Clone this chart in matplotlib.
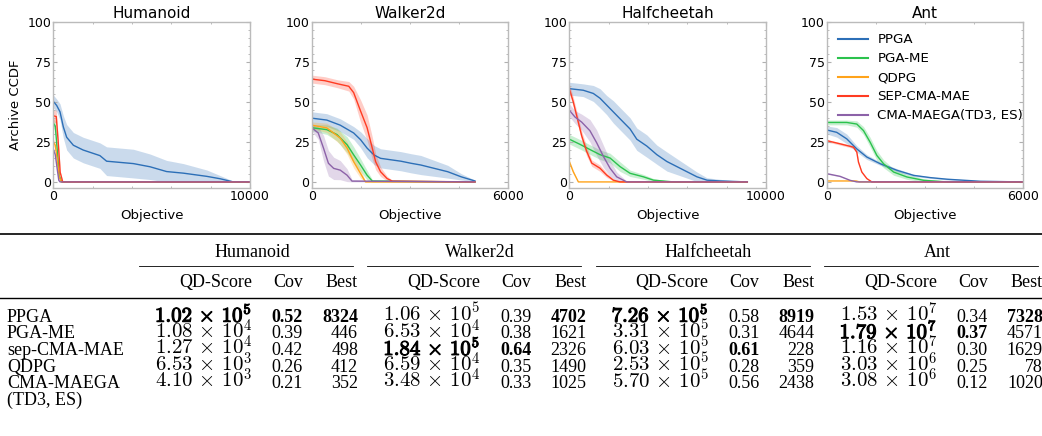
import numpy as np
import matplotlib as mpl
mpl.use('Agg')
import matplotlib.pyplot as plt
import matplotlib.patheffects as pe
from matplotlib.ticker import AutoMinorLocator

mpl.rcParams['mathtext.fontset'] = 'cm'
mpl.rcParams['font.family'] = 'DejaVu Sans'

envs = ['Humanoid', 'Walker2d', 'Halfcheetah', 'Ant']
env_xmax = [10000, 6000, 10000, 6000]
methods = ['PPGA', 'PGA-ME', 'QDPG', 'SEP-CMA-MAE', 'CMA-MAEGA(TD3, ES)']
colors = ['#2c6fb7', '#2bc24d', '#ffa31a', '#ff3b22', '#8c62a8']

# archive ccdf curves: method -> (objective, percent of cells, band half width)
humanoid = {
    'PPGA': ([0, 170, 340, 510, 680, 1020, 1520, 2370, 2710, 4070, 4920, 5760, 6610, 7800, 8480, 9150, 10000],
             [50.5, 48, 44, 34.5, 28, 23, 20, 16.5, 13, 11.5, 9.5, 6.5, 5.5, 3.5, 2, 0, 0],
             [4, 4, 5, 7, 8, 8, 8, 8, 9, 9, 8, 7, 6, 4, 2, 0.5, 0]),
    'PGA-ME': ([0, 100, 200, 300, 420, 10000], [37, 35, 20, 4, 0, 0], [3, 3, 3, 2, 0, 0]),
    'QDPG': ([0, 100, 200, 300, 420, 10000], [25, 23, 14, 3, 0, 0], [2, 2, 2, 1, 0, 0]),
    'SEP-CMA-MAE': ([0, 150, 250, 350, 480, 10000], [41.5, 41, 25, 6, 0, 0], [4, 4, 3, 1, 0, 0]),
    'CMA-MAEGA(TD3, ES)': ([0, 100, 200, 280, 340, 10000], [20.5, 17, 8, 1, 0, 0], [1, 1, 1, 0.5, 0, 0]),
}
walker = {
    'PPGA': ([0, 460, 870, 1280, 1490, 1690, 1900, 2100, 2720, 3030, 3330, 3740, 4150, 4560, 4980],
             [40, 38.8, 35.6, 30.7, 26.5, 21.2, 16.9, 14.8, 13, 11.7, 10.6, 8.5, 6.4, 3.2, 0.6],
             [4, 4, 4, 4, 5, 6, 6, 6, 6, 6, 6, 5, 4, 2, 0.5]),
    'PGA-ME': ([0, 460, 770, 1080, 1280, 1490, 1690, 1850, 4980],
               [34, 32.8, 29.7, 23.3, 17, 10.6, 4.2, 0.5, 0],
               [2, 3, 4, 5, 5, 4, 3, 1, 0]),
    'QDPG': ([0, 460, 870, 1080, 1280, 1490, 1640, 4980],
             [35.6, 33.9, 27.5, 21.2, 12.7, 5.3, 0, 0],
             [2, 3, 4, 4, 4, 3, 0.5, 0]),
    'SEP-CMA-MAE': ([0, 400, 800, 1130, 1280, 1490, 1690, 1850, 1950, 2100, 2300, 2460, 4980],
                    [64.5, 63.5, 61.5, 60, 56, 44.5, 34, 21, 12.7, 6.4, 2.1, 0.5, 0],
                    [2.5, 2.5, 2.5, 3, 4, 7, 8, 7, 5, 3, 1.5, 0.5, 0]),
    'CMA-MAEGA(TD3, ES)': ([0, 200, 360, 510, 670, 870, 1080, 1230, 4980],
                           [34, 30.7, 21.2, 11.7, 8.5, 7.4, 4.2, 0.5, 0],
                           [2, 4, 8, 8, 7, 6, 4, 1, 0]),
}
halfcheetah = {
    'PPGA': ([0, 710, 1220, 1560, 1900, 2240, 2580, 3090, 3430, 3940, 4450, 4960, 5470, 5980, 6490, 7000, 7680, 9050],
             [58.5, 57.5, 55.5, 52.5, 48.2, 43.9, 39.6, 33.2, 26.8, 22.5, 17.1, 12.8, 9.6, 6.4, 3.2, 1.1, 0.6, 0],
             [4, 4, 5, 6, 6, 7, 7, 7, 7, 7, 6, 6, 5, 4, 3, 1.5, 1, 0]),
    'PGA-ME': ([0, 540, 1050, 1560, 2070, 2580, 3090, 3770, 4280, 5300, 9050],
               [26.8, 23.6, 20.3, 17.1, 15, 9.6, 5.4, 3.2, 1.1, 0, 0],
               [3, 3, 3, 3, 3, 3, 2, 1.5, 1, 0, 0]),
    'QDPG': ([0, 200, 460, 9050], [12.8, 6.4, 0, 0], [1, 1, 0, 0]),
    'SEP-CMA-MAE': ([0, 200, 370, 630, 880, 1140, 1560, 1900, 2240, 2580, 9050],
                    [58.5, 50.3, 41.8, 28.9, 19.3, 11.8, 8.6, 4.3, 1.1, 0, 0],
                    [3, 3, 3, 3, 3, 2, 2, 1.5, 0.5, 0, 0]),
    'CMA-MAEGA(TD3, ES)': ([0, 290, 630, 1050, 1390, 1730, 2070, 2410, 2920, 9050],
                           [45, 40.7, 37.5, 32.1, 24.6, 16.1, 8.6, 3.2, 0, 0],
                           [4, 4, 5, 7, 8, 7, 5, 3, 0.5, 0]),
}
ant = {
    'PPGA': ([0, 306, 612, 918, 1224, 1632, 2142, 2652, 3162, 3672, 4692, 6000],
             [32.6, 31.1, 27, 20.7, 15.6, 11.4, 7.3, 4.1, 2.7, 1.7, 0.4, 0],
             [2.5, 3, 3, 2, 1.5, 1, 1, 0.7, 0.5, 0.5, 0.3, 0]),
    'PGA-ME': ([0, 612, 918, 1122, 1326, 1530, 1734, 2040, 2448, 2958, 3672, 6000],
               [37.3, 37.3, 36.3, 32.2, 24.9, 16.6, 11.4, 6.2, 3.1, 1, 0, 0],
               [1.5, 1.5, 2, 2.5, 3, 3, 2.5, 2, 1.5, 1, 0.5, 0]),
    'QDPG': ([0, 900, 1000, 6000], [0.6, 0.6, 0, 0], [0, 0, 0, 0]),
    'SEP-CMA-MAE': ([0, 408, 816, 918, 969, 1071, 1224, 1377, 6000],
                    [25.9, 23.9, 21.8, 18.7, 12.4, 6.2, 2.1, 0, 0],
                    [0.8, 0.8, 0.8, 0.8, 0.8, 0.5, 0.3, 0, 0]),
    'CMA-MAEGA(TD3, ES)': ([0, 408, 714, 918, 6000], [5.2, 3.5, 1, 0, 0], [0.3, 0.3, 0.2, 0, 0]),
}
curves = [humanoid, walker, halfcheetah, ant]

# table values
table_methods = ['PPGA', 'PGA-ME', 'sep-CMA-MAE', 'QDPG', 'CMA-MAEGA']
qd_score = [[1.02e5, 1.08e4, 1.27e4, 6.53e3, 4.10e3],
            [1.06e5, 6.53e4, 1.84e5, 6.59e4, 3.48e4],
            [7.26e5, 3.31e5, 6.03e5, 2.53e5, 5.70e5],
            [1.53e7, 1.79e7, 1.16e7, 3.03e6, 3.08e6]]
coverage = [[0.52, 0.39, 0.42, 0.26, 0.21],
            [0.39, 0.38, 0.64, 0.35, 0.33],
            [0.58, 0.31, 0.61, 0.28, 0.56],
            [0.34, 0.37, 0.30, 0.25, 0.12]]
best = [[8324, 446, 498, 412, 352],
        [4702, 1621, 2326, 1490, 1025],
        [8919, 4644, 228, 359, 2438],
        [7328, 4571, 1629, 78, 1020]]

W, H = 1042, 436
fig = plt.figure(figsize=(W / 100, H / 100), dpi=100)

ax_left = [53.3, 311.7, 569.3, 826.7]
for i, env in enumerate(envs):
    ax = fig.add_axes([ax_left[i] / W, 1 - 188.3 / H, 196.7 / W, 166.6 / H])
    for m, c in zip(methods, colors):
        x, y, e = [np.array(v, dtype=float) for v in curves[i][m]]
        ax.fill_between(x, np.clip(y - e, 0, None), y + e, color=c, alpha=0.25, lw=0)
    for m, c in zip(methods, colors):
        x, y, e = curves[i][m]
        ax.plot(x, y, color=c, lw=1.0, label=m)
    ax.set_xlim(0, env_xmax[i])
    ax.set_ylim(-4, 100.5)
    ax.set_xticks([0, env_xmax[i]])
    ax.set_yticks([0, 25, 50, 75, 100])
    ax.xaxis.set_minor_locator(AutoMinorLocator())
    ax.yaxis.set_minor_locator(AutoMinorLocator())
    ax.tick_params(which='both', direction='in', top=True, right=True,
                   color='#b0b0b0', labelsize=9, pad=1.5)
    ax.tick_params(which='major', length=3)
    ax.tick_params(which='minor', length=1.5)
    for s in ax.spines.values():
        s.set_color('#bbbbbb')
        s.set_linewidth(1.0)
    ax.set_title(env, fontsize=11, pad=3)
    ax.set_xlabel('Objective', fontsize=9.5)
    if i == 0:
        ax.set_ylabel('Archive CCDF', fontsize=9.5)
    if env == 'Ant':
        leg = ax.legend(loc='upper left', bbox_to_anchor=(0.032, 0.962), frameon=False,
                        fontsize=9.6, handlelength=2.25, handletextpad=0.68,
                        labelspacing=0.45, borderaxespad=0)
        for h in leg.get_lines():
            h.set_linewidth(1.5)

# table drawn in pixel coordinates
tax = fig.add_axes([0, 0, 1, 1])
tax.set_xlim(0, W)
tax.set_ylim(H, 0)
tax.axis('off')

serif = 'Liberation Serif'
fs = 13
mfs = 15
heavy = [pe.withStroke(linewidth=0.8, foreground='black')]


def sci(v, bold):
    ex = int(np.floor(np.log10(v)))
    m = f'{v / 10 ** ex:.2f}'
    if bold:
        return f'$\\mathbf{{{m}}}\\,\\times\\,\\mathbf{{10}}^{{\\mathbf{{{ex}}}}}$'
    return f'${m}\\,\\times\\,10^{{{ex}}}$'


tax.plot([0, W], [234, 234], color='black', lw=1.2)
tax.plot([0, W], [298, 298], color='black', lw=1.0)

step = 228.3
for g, env in enumerate(envs):
    off = g * step
    tax.text(252 + off, 256.7, env, family=serif, fontsize=fs, ha='center', va='baseline')
    tax.plot([139 + off, 353 + off], [266, 266], color='black', lw=0.6)
    tax.text(252 + off, 287, 'QD-Score', family=serif, fontsize=fs, ha='right', va='baseline')
    tax.text(303 + off, 287, 'Cov', family=serif, fontsize=fs, ha='right', va='baseline')
    tax.text(358 + off, 287, 'Best', family=serif, fontsize=fs, ha='right', va='baseline')
    qbest = int(np.argmax(qd_score[g]))
    cbest = int(np.argmax(coverage[g]))
    bbest = int(np.argmax(best[g]))
    for r in range(len(table_methods)):
        yb = 321.7 + 16.6 * r
        t = tax.text(252 + off, yb, sci(qd_score[g][r], r == qbest), fontsize=mfs,
                     ha='right', va='baseline')
        if r == qbest:
            t.set_path_effects(heavy)
        tax.text(303 + off, yb, f'{coverage[g][r]:.2f}', family=serif, fontsize=fs,
                 weight='bold' if r == cbest else 'normal', ha='right', va='baseline')
        tax.text(358 + off, yb, f'{best[g][r]}', family=serif, fontsize=fs,
                 weight='bold' if r == bbest else 'normal', ha='right', va='baseline')

for r, name in enumerate(table_methods):
    tax.text(7, 321.7 + 16.6 * r, name, family=serif, fontsize=fs, va='baseline')
tax.text(7, 321.7 + 16.6 * 5, '(TD3, ES)', family=serif, fontsize=fs, va='baseline')

fig.savefig('out.png', dpi=100)
